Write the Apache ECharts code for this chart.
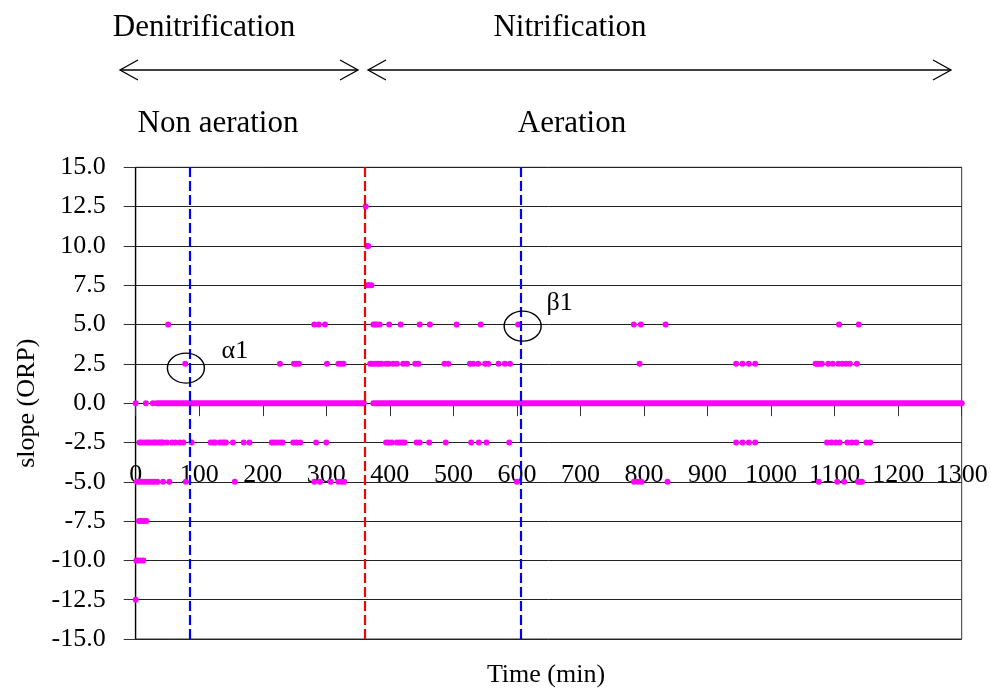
<!DOCTYPE html>
<html>
<head>
<meta charset="utf-8">
<title>slope (ORP)</title>
<script src="https://cdn.jsdelivr.net/npm/echarts@6/dist/echarts.min.js"></script>
<style>
  html, body { margin: 0; padding: 0; background: #fff; }
  #chart { width: 991px; height: 689px; }
</style>
</head>
<body>
<div id="chart"></div>
<script>
// ORP slope readings (min) grouped by slope level
const pos125 = [362];
const pos100 = [364, 366];
const pos75 = [365, 368, 371];
const pos50 = [51, 281, 288, 298, 374, 377, 380, 384, 399, 417, 447, 463, 505, 543, 602,
  784, 795, 834, 1107, 1138];
const pos25 = [78, 227, 249, 253, 257, 301, 319, 323, 327, 369, 372, 376, 380, 383, 387,
  394, 398, 405, 411, 421, 427, 440, 445, 486, 492, 526, 531, 539, 550, 555, 571, 581, 589,
  793, 945, 955, 965, 975, 1070, 1073, 1076, 1080, 1090, 1097, 1106, 1112, 1118, 1124, 1135];
// zero-slope readings: isolated samples and continuous stretches [from, to]
const zeroPoints = [0, 16, 27];
const zeroRuns = [[33, 359], [374, 1300]];
const neg25 = [6, 9, 13, 17, 20, 24, 28, 31, 35, 38, 41, 43, 49, 57, 62, 69, 75, 88, 118, 122,
  125, 132, 136, 139, 142, 153, 170, 179, 214, 218, 222, 227, 231, 248, 253, 259, 284, 300,
  394, 398, 403, 411, 415, 419, 423, 442, 447, 462, 488, 528, 540, 552, 588, 945, 955, 965,
  975, 1088, 1095, 1102, 1108, 1120, 1127, 1134, 1150, 1156];
const neg50 = [2, 6, 10, 14, 18, 22, 26, 30, 34, 43, 53, 79, 156, 281, 290, 307, 319, 324, 328,
  600, 784, 790, 796, 837, 1075, 1104, 1115, 1137, 1140, 1143];
const neg75 = [5, 9, 13, 17];
const neg100 = [1, 4, 8, 12];
const neg125 = [0];

// phase boundaries and marked points
const alphaLine = 85;
const switchLine = 361;
const betaLine = 606;
const alphaMark = [79, 2.23];
const betaMark = [609, 4.9];

const yTicks = { min: -15, max: 15, step: 2.5 };
const xTicks = { min: 0, max: 1300, step: 100 };

const levels = [
  [12.5, pos125], [10, pos100], [7.5, pos75], [5, pos50], [2.5, pos25], [0, zeroPoints],
  [-2.5, neg25], [-5, neg50], [-7.5, neg75], [-10, neg100], [-12.5, neg125]
];
const points = [];
levels.forEach(([lv, xs]) => xs.forEach(x => points.push([x, lv])));

const MAGENTA = '#FF00FF';
const FONT = '"Liberation Serif", "Times New Roman", serif';

// plot box in pixels
const GRID = { left: 135.7, right: 29.3, top: 167.3, bottom: 50 };
const plotH = 689 - GRID.top - GRID.bottom;
// move the time axis (line, ticks, labels) up to slope = 0
const zeroOffset = -plotH * (0 - yTicks.min) / (yTicks.max - yTicks.min);

const runSeries = zeroRuns.map(r => ({
  type: 'line',
  data: [[r[0], 0], [r[1], 0]],
  symbol: 'none',
  lineStyle: { color: MAGENTA, width: 6, cap: 'round' },
  silent: true,
  z: 3
}));

const chart = echarts.init(document.getElementById('chart'), null, { renderer: 'canvas' });

function arrow(x1, x2, y) {
  const h = 18, w = 10;
  const st = { stroke: '#000', lineWidth: 1.3, fill: null };
  return [
    { type: 'polyline', shape: { points: [[x1, y], [x2, y]] }, style: st },
    { type: 'polyline', shape: { points: [[x1 + h, y - w], [x1, y], [x1 + h, y + w]] }, style: st },
    { type: 'polyline', shape: { points: [[x2 - h, y - w], [x2, y], [x2 - h, y + w]] }, style: st }
  ];
}
function text(str, x, y, size) {
  return {
    type: 'text', x: x, y: y,
    style: { text: str, font: size + 'px ' + FONT, fill: '#000', align: 'center', verticalAlign: 'middle' }
  };
}

chart.setOption({
  animation: false,
  backgroundColor: '#fff',
  grid: {
    left: GRID.left, right: GRID.right, top: GRID.top, bottom: GRID.bottom,
    containLabel: false, outerBoundsMode: 'none',
    show: true, borderColor: '#333', borderWidth: 1
  },
  xAxis: {
    type: 'value', min: xTicks.min, max: xTicks.max, interval: xTicks.step,
    offset: zeroOffset,
    axisLine: { onZero: false, lineStyle: { color: '#000', width: 1 } },
    axisTick: { show: true, inside: false, length: 13, lineStyle: { color: '#333' } },
    axisLabel: {
      fontFamily: FONT, fontSize: 26, color: '#000', margin: 59,
      showMinLabel: true, showMaxLabel: true, hideOverlap: false,
      formatter: v => String(v)
    },
    splitLine: { show: false }
  },
  yAxis: {
    type: 'value', min: yTicks.min, max: yTicks.max, interval: yTicks.step,
    name: 'slope (ORP)', nameLocation: 'middle', nameGap: 89,
    nameTextStyle: { fontFamily: FONT, fontSize: 26, color: '#000' },
    axisLine: { show: true, onZero: false, lineStyle: { color: '#000', width: 1.3 } },
    axisTick: { show: true, inside: false, length: 12, lineStyle: { color: '#333' } },
    axisLabel: { fontFamily: FONT, fontSize: 26, color: '#000', margin: 30, formatter: v => v.toFixed(1) },
    splitLine: { show: true, lineStyle: { color: '#222', width: 1 } }
  },
  series: [
    ...runSeries,
    {
      type: 'scatter',
      data: points,
      symbol: 'circle',
      symbolSize: 6,
      itemStyle: { color: MAGENTA, opacity: 1 },
      silent: true,
      z: 3
    },
    {
      type: 'scatter',
      data: [],
      silent: true,
      z: 5,
      markLine: {
        silent: true,
        symbol: ['none', 'none'],
        label: { show: false },
        lineStyle: { type: [10, 4], width: 2.2 },
        data: [
          { xAxis: alphaLine, lineStyle: { color: '#0000FF', type: [10, 4], width: 2.2 } },
          { xAxis: switchLine, lineStyle: { color: '#FF0000', type: [10, 4], width: 2.2 } },
          { xAxis: betaLine, lineStyle: { color: '#0000FF', type: [10, 4], width: 2.2 } }
        ]
      }
    },
    {
      type: 'scatter',
      silent: true,
      z: 6,
      symbol: 'circle',
      symbolSize: [37, 30],
      itemStyle: { color: 'rgba(0,0,0,0)', borderColor: '#000', borderWidth: 1.3, opacity: 1 },
      label: { show: true, position: 'inside', fontFamily: FONT, fontSize: 26, color: '#000', formatter: p => p.name },
      data: [
        { name: 'α1', value: alphaMark, label: { offset: [49, -17] } },
        { name: 'β1', value: betaMark, label: { offset: [37, -23] } }
      ]
    }
  ],
  graphic: [
    text('Denitrification', 204, 28, 31),
    text('Nitrification', 570, 28, 31),
    ...arrow(120, 358, 70),
    ...arrow(368, 951, 70),
    text('Non aeration', 218, 124, 31),
    text('Aeration', 572, 124, 31),
    text('Time (min)', 546, 675, 26)
  ]
});
</script>
</body>
</html>
